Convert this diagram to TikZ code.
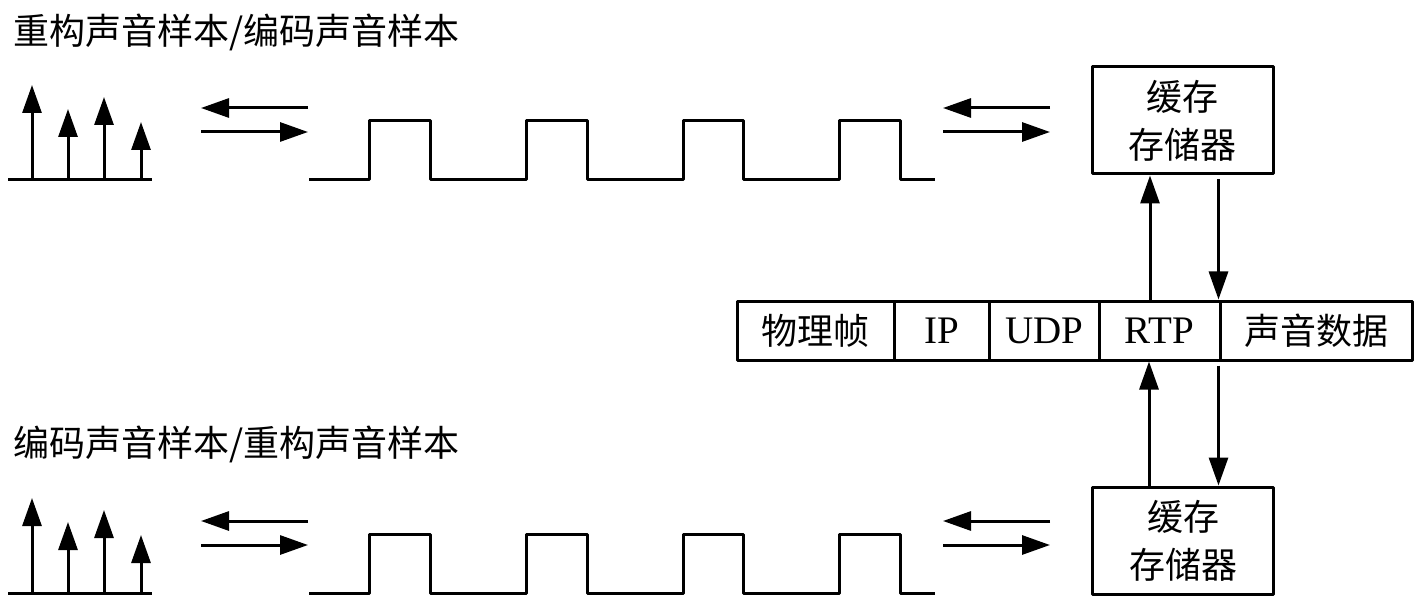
\documentclass[tikz,border=0pt]{standalone}
\usepackage{fontspec}
\setmainfont{Liberation Serif}
\newfontfamily\cjk{Noto Sans CJK SC}
\usetikzlibrary{arrows.meta}
\begin{document}
\begin{tikzpicture}[x=1pt,y=-1pt,line width=3pt,line join=round,
  arr/.style={-{Triangle[length=28pt,width=19pt]}},
  cell/.style={draw,minimum height=59pt,inner sep=0pt,font=\fontsize{39}{40}\selectfont},
  cjkcell/.style={cell,font=\cjk\fontsize{36}{40}\selectfont},
  buf/.style={draw,minimum width=181pt,minimum height=107pt,align=center,inner sep=0pt,font=\cjk\fontsize{36}{48}\selectfont},
  lbl/.style={anchor=west,inner sep=0pt,font=\cjk\fontsize{36}{40}\selectfont}]
\useasboundingbox (0,0) rectangle (1414,596);

% labels
\node[lbl] (toplbl) at (12,32) {重构声音样本/编码声音样本};
\node[lbl] (botlbl) at (12,444) {编码声音样本/重构声音样本};

% two signal rows
\foreach \dy in {0,413}{
\begin{scope}[shift={(0,\dy)}]
  \draw (8,180) -- (152,180);
  \draw[arr] (32,180) -- (32,85);
  \draw[arr] (68,180) -- (68,109);
  \draw[arr] (104,180) -- (104,97);
  \draw[arr] (141,180) -- (141,122);
  \draw[arr] (308,108) -- (201,108);
  \draw[arr] (201,132) -- (308,132);
  \draw (309,180) -| (369,121) -| (430,180) -| (526,121) -| (587,180)
        -| (683,121) -| (743,180) -| (839,121) -| (900,180) -- (935,180);
  \draw[arr] (1050,108) -- (943,108);
  \draw[arr] (943,132) -- (1050,132);
\end{scope}
}

% buffers
\node[buf] (buf1) at (1182.5,120.5) {缓存\\存储器};
\node[buf] (buf2) at (1183,540.5) {缓存\\存储器};

% packet frame
\node[cjkcell,minimum width=157pt] (f1) at (815.5,330.5) {物理帧};
\node[cell,minimum width=95pt] (f2) at (941.5,330.5) {IP};
\node[cell,minimum width=110pt] (f3) at (1044,330.5) {UDP};
\node[cell,minimum width=121pt] (f4) at (1159.5,330.5) {RTP};
\node[cjkcell,minimum width=192pt] (f5) at (1316,330.5) {声音数据};

% connectors
\draw[arr] ([xshift=-9.5pt]f4.north) -- ([xshift=-9.5pt]f4.north |- buf1.south);
\draw[arr] ([yshift=-4pt]buf1.south -| f5.north west) -- (f5.north west);
\draw[arr] ([xshift=-10.5pt]f4.north |- buf2.north) -- ([xshift=-10.5pt]f4.south);
\draw[arr] ([yshift=-4pt]f5.south west) -- (f5.south west |- buf2.north);
\end{tikzpicture}
\end{document}
